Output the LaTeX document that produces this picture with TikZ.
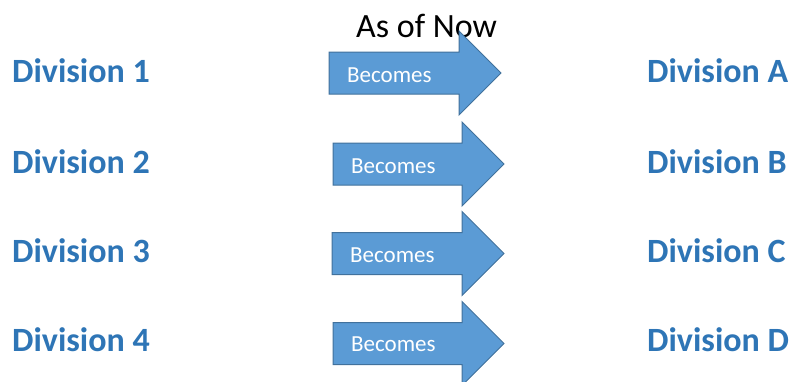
\documentclass[tikz,border=0pt]{standalone}
\usepackage{fontspec}
\setmainfont{Carlito}
\definecolor{divblue}{HTML}{2E75B6}
\definecolor{arrowfill}{HTML}{5B9BD5}
\definecolor{arrowline}{HTML}{41719C}
\tikzset{
  division/.style={anchor=base west, inner sep=0pt, text=divblue, font=\fontsize{34}{37}\selectfont\bfseries},
  becomesarrow/.style={fill=arrowfill, draw=arrowline, line width=1pt, line join=miter},
  becomestext/.style={anchor=base west, inner sep=0pt, text=white, font=\fontsize{23}{26}\selectfont},
}
\begin{document}
\begin{tikzpicture}[x=1pt, y=-1pt]
  \useasboundingbox (0,0) rectangle (790,381);
  \node[anchor=base west, inner sep=0pt, font=\fontsize{34}{37}\selectfont] (title) at (356,37) {As of Now};
  \foreach \row/\bx/\hx/\my/\bl/\src/\dst in {1/329/459/73/82/1/A, 2/333/462/164/173/2/B, 3/332/462/253.5/262/3/C, 4/333/462/343.5/351/4/D} {
    \node[division] (old\row) at (12,\bl) {Division \src};
    \node[division] (new\row) at (647,\bl) {Division \dst};
    \draw[becomesarrow] (\bx,\my-21) -- (\hx,\my-21) -- (\hx,\my-42) -- (\hx+42,\my) -- (\hx,\my+42) -- (\hx,\my+21) -- (\bx,\my+21) -- cycle;
    \node[becomestext] (becomes\row) at (\bx+18,\bl) {Becomes};
  }
\end{tikzpicture}
\end{document}
